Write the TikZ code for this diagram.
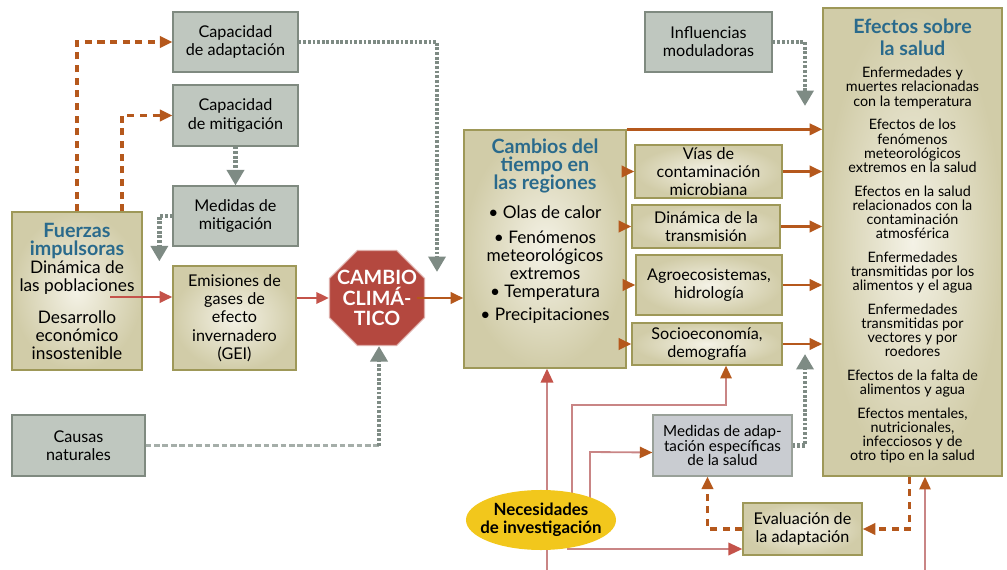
\documentclass[tikz,border=0pt]{standalone}
\usepackage{fontspec}
\setmainfont{Lato}
\usepackage{tikz}
\usetikzlibrary{arrows.meta}
\usetikzlibrary{shapes.geometric}
\usetikzlibrary{backgrounds}

\definecolor{boxgray}{HTML}{BFC7BF}
\definecolor{grayline}{HTML}{7F8A80}
\definecolor{beigein}{HTML}{F4F2E6}
\definecolor{beigeout}{HTML}{D1CCA8}
\definecolor{beigeline}{HTML}{9E9858}
\definecolor{titleblue}{HTML}{2A6A8C}
\definecolor{arrbrown}{HTML}{B5581C}
\definecolor{arrred}{HTML}{C4534A}
\definecolor{linepink}{HTML}{C98585}
\definecolor{arrgray}{HTML}{7E8B84}
\definecolor{stopred}{HTML}{B4483F}
\definecolor{necyellow}{HTML}{F2C71C}
\definecolor{adaptgray}{HTML}{C9CCD1}

\newcommand{\boxfont}{\fontsize{11.5}{13}\selectfont}
\newcommand{\bigbox}{\fontsize{12.3}{12.8}\selectfont}
\newcommand{\smallbox}{\fontsize{10.8}{10.4}\selectfont}
\newcommand{\efxfont}{\fontsize{10.2}{10}\selectfont}
\newcommand{\ttl}[1]{{\color{titleblue}\fontsize{14}{14}\selectfont\bfseries #1}}

\tikzset{
  graybox/.style={draw=grayline, fill=boxgray, line width=0.8pt, align=center, inner sep=1pt, font=\boxfont},
  beigebox/.style={draw=beigeline, line width=0.9pt, inner color=beigein, outer color=beigeout, align=center, inner sep=1pt, font=\boxfont},
  brownarr/.style={arrbrown, line width=2pt, -{Triangle[length=9pt, width=8pt]}},
  redarr/.style={arrred, line width=2pt, -{Triangle[length=9pt, width=8pt]}},
  brownd/.style={arrbrown, line width=2.2pt, dash pattern=on 5pt off 4pt, -{Triangle[length=9pt, width=8pt]}},
  graydot/.style={arrgray, line width=3.5pt, dash pattern=on 2pt off 1.3pt, -{Triangle[length=11pt, width=12pt]}},
  graydash/.style={arrgray!70, line width=2pt, dash pattern=on 4pt off 2pt},
  pinkline/.style={linepink, line width=1.3pt},
}

\begin{document}
\begin{tikzpicture}[x=0.025cm, y=-0.025cm]
    \useasboundingbox (0,0) rectangle (1007,570);
    % left column
    \node[graybox, minimum width=3.125cm, minimum height=1.5cm] (capadapt) at (235.5, 42) {Capacidad\\de adaptación};
    \node[graybox, minimum width=3.125cm, minimum height=1.525cm] (capmitig) at (235.5, 115.5) {Capacidad\\de mitigación};
    \node[graybox, minimum width=3.125cm, minimum height=1.5cm] (medmitig) at (235.5, 216) {Medidas de\\mitigación};
    \node[beigebox, font=\bigbox, minimum width=3.25cm, minimum height=3.95cm] (fuerzas) at (77, 291) {%
      \ttl{Fuerzas}\\\ttl{impulsoras}\\Dinámica de\\las poblaciones\\[10pt]Desarrollo\\económico\\insostenible};
    \node[beigebox, minimum width=3.075cm, minimum height=2.6cm] (emisiones) at (234.5, 318) {Emisiones de\\gases de\\efecto\\invernadero\\(GEI)};
    \node[graybox, minimum width=3.325cm, minimum height=1.525cm] (causas) at (78.5, 445.5) {Causas\\naturales};
    \coordinate (fz) at (110, 297); % inside fuerzas
    % climate change
    \node[regular polygon, regular polygon sides=8, minimum size=2.57cm, inner sep=-8pt,
          fill=stopred, draw=stopred!45, line width=0.8pt, text=white, align=center,
          font=\fontsize{14}{14.5}\selectfont\bfseries] (cambio) at (377, 298) {CAMBIO\\CLIMÁ-\\TICO};
    % regional weather
    \node[beigebox, minimum width=4.05cm, minimum height=5.95cm] (tiempo) at (545, 249) {};
    \node[anchor=north, align=center, font=\bigbox] (tiempotxt) at (545, 134) {%
      \ttl{Cambios del}\\\ttl{tiempo en}\\\ttl{las regiones}\\[8pt]
      • Olas de calor\\[5pt]• Fenómenos\\meteorológicos\\extremos\\• Temperatura\\[3pt]• Precipitaciones};
    \node[beigebox, minimum width=3.675cm, minimum height=1.325cm] (vias) at (708.5, 171.5) {Vías de\\contaminación\\microbiana};
    \node[beigebox, minimum width=3.7cm, minimum height=1.075cm] (dinamica) at (706, 226.5) {Dinámica de la\\transmisión};
    \node[beigebox, minimum width=3.65cm, minimum height=1.5cm] (agro) at (709, 285) {Agroecosistemas,\\hidrología};
    \node[beigebox, minimum width=3.75cm, minimum height=1.05cm] (socio) at (707, 344) {Socioeconomía,\\demografía};
    \node[graybox, minimum width=3.175cm, minimum height=1.5cm] (influencias) at (708.5, 42) {Influencias\\moduladoras};
    % health effects
    \node[beigebox, minimum width=4.475cm, minimum height=11.7cm] (efectos) at (912.5, 242) {};
    \node[anchor=north, align=center, font=\efxfont] (efectostxt) at (912.5, 14) {%
      \ttl{Efectos sobre}\\[4pt]\ttl{la salud}\\[6pt]
      Enfermedades y\\muertes relacionadas\\con la temperatura\\[7pt]
      Efectos de los\\fenómenos\\meteorológicos\\extremos en la salud\\[7pt]
      Efectos en la salud\\relacionados con la\\contaminación\\atmosférica\\[7pt]
      Enfermedades\\transmitidas por los\\alimentos y el agua\\[7pt]
      Enfermedades\\transmitidas por\\vectores y por\\roedores\\[7pt]
      Efectos de la falta de\\alimentos y agua\\[7pt]
      Efectos mentales,\\nutricionales,\\infecciosos y de\\otro tipo en la salud};
    % adaptation
    \node[draw=grayline!80, fill=adaptgray, line width=0.8pt, align=center, inner sep=1pt, font=\smallbox,
          minimum width=3.475cm, minimum height=1.525cm] (medadapt) at (722.5, 445.5) {Medidas de adap-\\tación específicas\\de la salud};
    \node[beigebox, minimum width=2.975cm, minimum height=1.3cm] (evaluacion) at (802.5, 529) {Evaluación de\\la adaptación};
    \node[ellipse, fill=necyellow, minimum width=3.75cm, minimum height=1.5cm, inner sep=-10pt, align=center,
          font=\fontsize{12}{12.5}\selectfont\bfseries] (necesidades) at (541, 520) {Necesidades\\de investigación};
    % dashed brown, driving forces
    \draw [brownd] (fuerzas.north) |- (capadapt.west);
    \draw [brownd] ([xshift=1.125cm]fuerzas.north) |- (capmitig.west);
    % gray dotted
    \draw [graydot] (capmitig.south) -- (medmitig.north);
    \draw [graydot] (medmitig.west) -| ([xshift=-0.325cm, yshift=0.1cm]emisiones.north west);
    \coordinate (ccin) at (437, 272);
    \draw [graydot] (capadapt.east) -| (ccin);
    \coordinate (cn) at ([xshift=0.05cm]cambio.south |- causas.east);
    \draw [graydash] (causas.east) -- (cn);
    \draw [graydot] (cn) -- ([xshift=0.05cm]cambio.south);
    \coordinate (infl) at (805, 106);
    \draw [graydot] (influencias.east) -| (infl);
    \coordinate (madp) at (805, 354);
    \draw [graydot] (medadapt.east) -| (madp);
    % main flow
    \draw [redarr] (fz) -- (fz -| emisiones.west);
    \draw [redarr] (emisiones.east |- cambio.west) -- (cambio.west);
    \draw [brownarr] ([xshift=1cm]cambio.center) -- (tiempo.west |- cambio.center);
    \draw [brownarr] (tiempo.north east) -- (efectos.west |- tiempo.north east);
    \foreach \b in {vias, dinamica, agro, socio} {
      \draw [brownarr] (tiempo.east |- \b.west) -- (\b.west);
      \draw [brownarr] (\b.east) -- (efectos.west |- \b.east);
    }
    % research needs
    \begin{scope}[on background layer]
      \coordinate (nb) at (547, 570);
      \draw [pinkline, -{Triangle[length=10pt, width=9pt, color=arrred]}] (nb) -- (tiempo.south -| nb);
      \draw [pinkline, -{Triangle[length=9pt, width=8pt, color=arrbrown]}] (necesidades.center -| 572, 0) -- (572, 405) -| ([xshift=0.475cm]socio.south);
      \draw [pinkline, -{Triangle[length=9pt, width=8pt, color=arrbrown]}] (necesidades.center -| 590, 0) -- (590, 452) -- ([yshift=-0.175cm]medadapt.west);
      \draw [pinkline, -{Triangle[length=10pt, width=9pt, color=arrred]}] (necesidades.center -| 568, 0) -- (568, 549) -- ([yshift=-0.5cm]evaluacion.west);
      \coordinate (eb) at (925, 570);
      \draw [pinkline, -{Triangle[length=9pt, width=8pt, color=arrbrown]}] (eb) -- (efectos.south -| eb);
    \end{scope}
    % evaluation
    \draw [brownd] (evaluacion.west) -| ([xshift=-0.375cm]medadapt.south);
    \draw [brownd] ([xshift=-0.075cm]efectos.south) |- (evaluacion.east);
\end{tikzpicture}
\end{document}
